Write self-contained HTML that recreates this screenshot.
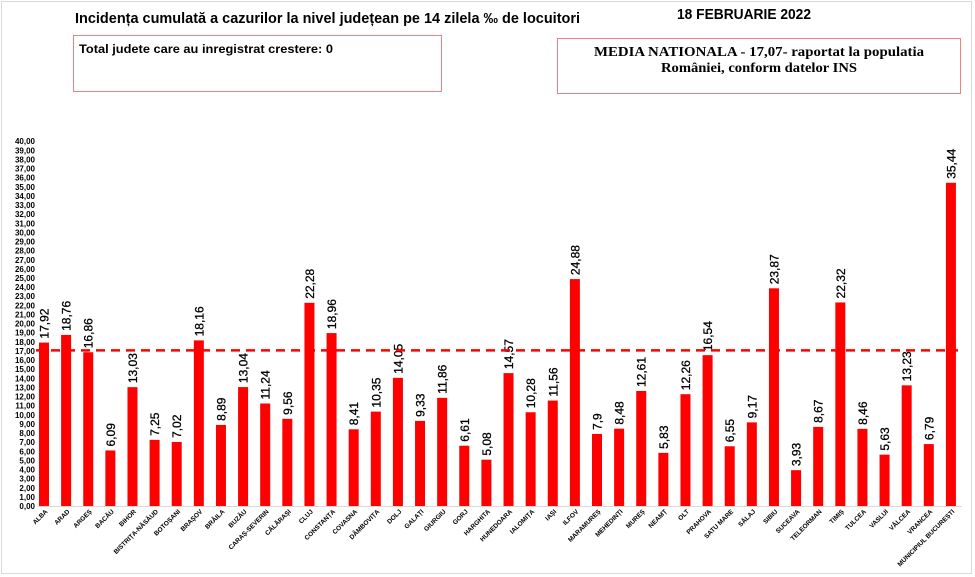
<!DOCTYPE html>
<html><head><meta charset="utf-8"><style>
html,body{margin:0;padding:0;background:#fff;}
svg{display:block;font-family:"Liberation Sans",sans-serif;}
</style></head><body>
<svg id="s" width="975" height="577" xmlns="http://www.w3.org/2000/svg">
<rect x="1.5" y="1.5" width="970" height="572" fill="#fff" stroke="#d9d9d9"/>
<text x="75" y="23" font-size="15" font-weight="bold" textLength="505" lengthAdjust="spacingAndGlyphs">Incidența cumulată a cazurilor la nivel județean pe 14 zilela ‰ de locuitori</text>
<text x="677" y="19" font-size="15" font-weight="bold" textLength="134" lengthAdjust="spacingAndGlyphs">18 FEBRUARIE 2022</text>
<rect x="73.5" y="35.5" width="368" height="56" fill="#fff" stroke="#f08080"/>
<text x="79" y="53" font-size="12" font-weight="bold" textLength="254" lengthAdjust="spacingAndGlyphs">Total judete care au inregistrat crestere: 0</text>
<rect x="557.5" y="38.5" width="403" height="55" fill="#fff" stroke="#f08080"/>
<text x="759" y="56" font-size="14" font-weight="bold" text-anchor="middle" font-family="Liberation Serif,serif" textLength="330" lengthAdjust="spacingAndGlyphs">MEDIA NATIONALA - 17,07-  raportat la populatia</text>
<text x="759" y="72" font-size="14" font-weight="bold" text-anchor="middle" font-family="Liberation Serif,serif" textLength="196" lengthAdjust="spacingAndGlyphs">României, conform datelor INS</text>
<g id="g"></g>
</svg>
<script>
var d=[["ALBA",17.92],["ARAD",18.76],["ARGEȘ",16.86],["BACĂU",6.09],["BIHOR",13.03],["BISTRIȚA-NĂSĂUD",7.25],["BOTOȘANI",7.02],["BRAȘOV",18.16],["BRĂILA",8.89],["BUZĂU",13.04],["CARAȘ-SEVERIN",11.24],["CĂLĂRAȘI",9.56],["CLUJ",22.28],["CONSTANȚA",18.96],["COVASNA",8.41],["DÂMBOVIȚA",10.35],["DOLJ",14.05],["GALAȚI",9.33],["GIURGIU",11.86],["GORJ",6.61],["HARGHITA",5.08],["HUNEDOARA",14.57],["IALOMIȚA",10.28],["IAȘI",11.56],["ILFOV",24.88],["MARAMUREȘ",7.9],["MEHEDINȚI",8.48],["MUREȘ",12.61],["NEAMȚ",5.83],["OLT",12.26],["PRAHOVA",16.54],["SATU MARE",6.55],["SĂLAJ",9.17],["SIBIU",23.87],["SUCEAVA",3.93],["TELEORMAN",8.67],["TIMIȘ",22.32],["TULCEA",8.46],["VASLUI",5.63],["VÂLCEA",13.23],["VRANCEA",6.79],["MUNICIPIUL BUCUREȘTI",35.44]];
var y0=506,k=9.12,h='';
for(var i=0;i<=40;i++){var y=y0-i*k;h+='<text x="35" y="'+(y+3)+'" font-size="8" font-weight="bold" text-anchor="end">'+i+',00</text>';}
h+='<line x1="37" y1="506.5" x2="962" y2="506.5" stroke="#d9d9d9"/>';
d.forEach(function(e,i){var cx=44+i*22.12,bh=e[1]*k,y=y0-bh;
h+='<rect x="'+(cx-5)+'" y="'+y+'" width="10" height="'+bh+'" fill="#ff0000"/>';
var v=(''+e[1]).replace('.',',');
h+='<text transform="translate('+(cx+4.5)+','+(y-4)+') rotate(-90)" font-size="12" stroke="#000" stroke-width="0.3">'+v+'</text>';
h+='<text transform="translate('+(cx+4)+',512) rotate(-45)" font-size="6.5" font-weight="bold" text-anchor="end">'+e[0]+'</text>';});
var yl=y0-17.07*k;
h+='<line x1="36" y1="'+yl+'" x2="958" y2="'+yl+'" stroke="#ff0000" stroke-width="2.5" stroke-dasharray="9,6"/>';
document.getElementById('g').innerHTML=h;
</script>
</body></html>
